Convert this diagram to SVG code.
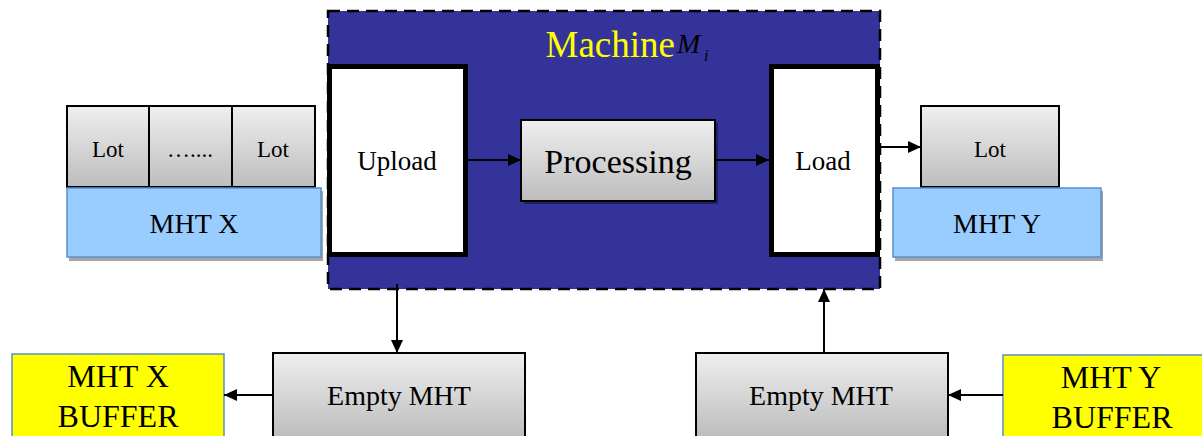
<svg xmlns="http://www.w3.org/2000/svg" width="1202" height="436" viewBox="0 0 1202 436">
<style>
text{font-family:"Liberation Serif","Times New Roman",serif;fill:#000;text-anchor:middle}
.gray{fill:url(#g);stroke:#000;stroke-width:2}
.white{fill:#fff;stroke:#000;stroke-width:5}
.mht{fill:#99ccff;stroke:#5b8fc7;stroke-width:1.5}
.buf{fill:#ffff00;stroke:#5b8fc7;stroke-width:1.5}
.shadow{fill:#a6a6a6}
.conn{stroke:#000;stroke-width:2;fill:none;marker-end:url(#ah)}
</style>
<defs>
<linearGradient id="g" x1="0" y1="0" x2="0" y2="1">
<stop offset="0" stop-color="#efefef"/>
<stop offset="1" stop-color="#bdbdbd"/>
</linearGradient>
<marker id="ah" viewBox="0 0 13 12" refX="13" refY="6" markerWidth="13" markerHeight="12" markerUnits="userSpaceOnUse" orient="auto">
<path d="M0,0 L13,6 L0,12 z" fill="#000"/>
</marker>
</defs>

<g id="machine">
<rect x="328" y="11" width="552" height="278" fill="#333399" stroke="#000" stroke-width="2.5" stroke-dasharray="12,7"/>
<text x="675" y="57" font-size="37" style="fill:#ffff00;text-anchor:end">Machine</text>
<text x="677" y="53" font-size="28" font-style="italic" style="text-anchor:start">M</text>
<text x="704" y="61" font-size="16" font-style="italic" style="text-anchor:start">i</text>
</g>

<g id="upload">
<rect class="white" x="329.5" y="66.5" width="136" height="188"/>
<text x="397" y="170" font-size="27">Upload</text>
</g>

<g id="processing">
<rect x="524" y="123" width="194" height="81" fill="#1f1f66"/>
<rect class="gray" x="521" y="120" width="194" height="81"/>
<text x="618" y="173" font-size="34">Processing</text>
</g>

<g id="load">
<rect class="white" x="771.5" y="66.5" width="106" height="188"/>
<text x="823" y="170" font-size="27">Load</text>
</g>

<g id="lots-x">
<rect class="gray" x="67" y="106" width="82" height="81"/>
<rect class="gray" x="149" y="106" width="83" height="81"/>
<rect class="gray" x="232" y="106" width="83" height="81"/>
<text x="108" y="157" font-size="23">Lot</text>
<text x="190" y="157" font-size="23">…....</text>
<text x="273" y="157" font-size="23">Lot</text>
</g>

<g id="mht-x">
<rect class="shadow" x="69" y="191" width="254" height="70"/>
<rect class="mht" x="67" y="188" width="254" height="69"/>
<text x="194" y="233" font-size="28">MHT X</text>
</g>

<g id="lot-y">
<rect class="gray" x="921" y="106" width="138" height="81"/>
<text x="990" y="157" font-size="23">Lot</text>
</g>

<g id="mht-y">
<rect class="shadow" x="895" y="191" width="208" height="70"/>
<rect class="mht" x="893" y="188" width="208" height="69"/>
<text x="997" y="233" font-size="28">MHT Y</text>
</g>

<g id="empty-mht-x">
<rect class="gray" x="273" y="353" width="252" height="84"/>
<text x="399" y="405" font-size="28">Empty MHT</text>
</g>

<g id="buffer-x">
<rect class="buf" x="12" y="354" width="212" height="84"/>
<text x="118" y="387" font-size="32">MHT X</text>
<text x="118" y="427" font-size="32">BUFFER</text>
</g>

<g id="empty-mht-y">
<rect class="gray" x="696" y="353" width="252" height="84"/>
<text x="821" y="405" font-size="28">Empty MHT</text>
</g>

<g id="buffer-y">
<rect class="buf" x="1003" y="355" width="218" height="84"/>
<text x="1111" y="388" font-size="32">MHT Y</text>
<text x="1112" y="428" font-size="32">BUFFER</text>
</g>

<g id="connectors">
<line class="conn" x1="468" y1="160" x2="521" y2="160"/>
<line class="conn" x1="715" y1="160" x2="769" y2="160"/>
<line class="conn" x1="880" y1="147" x2="921" y2="147"/>
<line class="conn" x1="397" y1="284" x2="397" y2="353"/>
<line class="conn" x1="273" y1="395" x2="224" y2="395"/>
<line class="conn" x1="824" y1="353" x2="824" y2="289"/>
<line class="conn" x1="1003" y1="395" x2="948" y2="395"/>
</g>
</svg>
